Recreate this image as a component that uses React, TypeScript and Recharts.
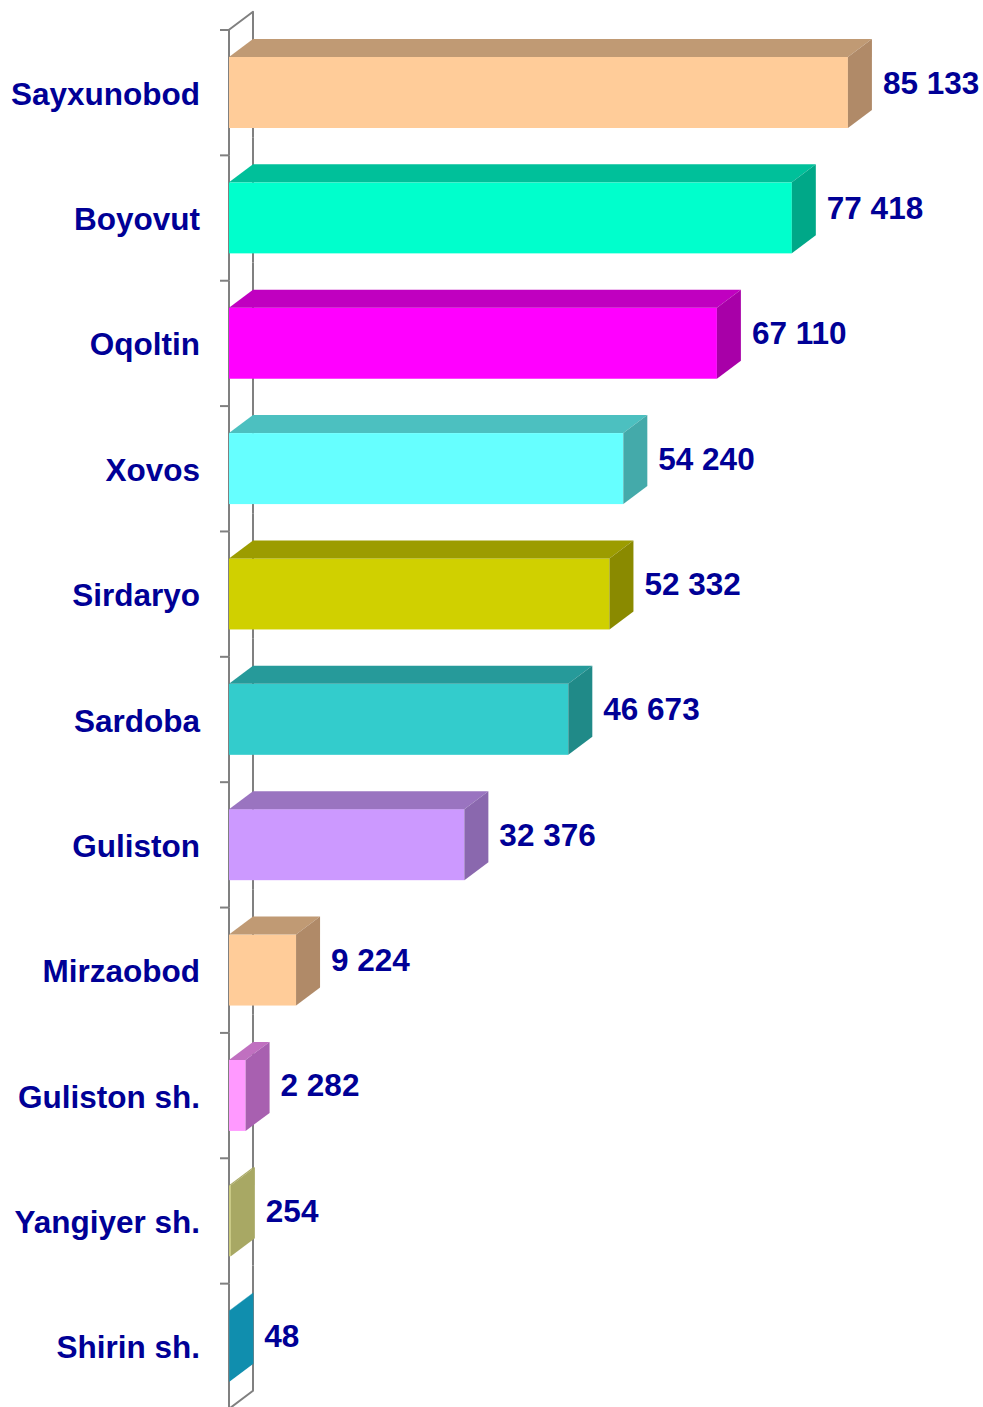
import React from 'react';
import { BarChart, Bar, XAxis, YAxis, LabelList } from 'recharts';

const categories = ['Sayxunobod', 'Boyovut', 'Oqoltin', 'Xovos', 'Sirdaryo', 'Sardoba', 'Guliston', 'Mirzaobod', 'Guliston sh.', 'Yangiyer sh.', 'Shirin sh.'];
const values = [85133, 77418, 67110, 54240, 52332, 46673, 32376, 9224, 2282, 254, 48];
const valueLabels = ['85 133', '77 418', '67 110', '54 240', '52 332', '46 673', '32 376', '9 224', '2 282', '254', '48'];

const frontColors = ['#FFCC99', '#00FFCC', '#FF00FF', '#66FFFF', '#D0D000', '#33CCCC', '#CC99FF', '#FFCC99', '#FF99FF', '#C8C878', '#14A0C4'];
const topColors = ['#C09A74', '#00C09A', '#C000C0', '#4CC0C0', '#9C9C00', '#269A9A', '#9A74C0', '#C09A74', '#C070C0', '#A8A864', '#1090B0'];
const sideColors = ['#B08A68', '#00A888', '#A800A8', '#44AAAA', '#8A8A00', '#208A88', '#8A68AE', '#B08A68', '#A860B0', '#A8A864', '#108EAE'];

const data = categories.map((name, i) => ({ name, value: values[i], label: valueLabels[i] }));

const W = 983;
const H = 1409;
const M_TOP = 30;
const M_BOTTOM = 0;
const DX = 24;
const DY = 18;
const BAND = (H - M_TOP - M_BOTTOM) / categories.length;
const TEXT = '#000096';
const FONT = '"Liberation Sans", Arial, sans-serif';
const FS = 31.5;
const WALL = '#808080';

const BoxShape = (props: any) => {
  const { x, y, width, height, index } = props;
  const w = Math.max(0, width || 0);
  const i = index ?? categories.indexOf(props.name);
  return (
    <g>
      <rect x={x} y={y} width={w} height={height} fill={frontColors[i]} />
      <polygon points={`${x},${y} ${x + DX},${y - DY} ${x + w + DX},${y - DY} ${x + w},${y}`} fill={topColors[i]} />
      <polygon
        points={`${x + w},${y} ${x + w + DX},${y - DY} ${x + w + DX},${y + height - DY} ${x + w},${y + height}`}
        fill={sideColors[i]}
      />
    </g>
  );
};

// Draws the segment of the 3D axis wall belonging to each category band (rendered beneath the bars)
const WallSegment = (props: any) => {
  const { x, y, height, index } = props;
  if (x == null || y == null) return null;
  const yc = y + height / 2;
  const t = yc - BAND / 2;
  const b = yc + BAND / 2;
  const last = index === categories.length - 1;
  return (
    <g>
      <line x1={x} x2={x} y1={t} y2={b} stroke={WALL} strokeWidth={2} />
      <line x1={x + DX} x2={x + DX} y1={t - DY} y2={b - DY} stroke={WALL} strokeWidth={2} />
      {index === 0 && <line x1={x} y1={t} x2={x + DX} y2={t - DY} stroke={WALL} strokeWidth={2} strokeLinecap="round" />}
      {last && <line x1={x} y1={b} x2={x + DX} y2={b - DY} stroke={WALL} strokeWidth={2} strokeLinecap="round" />}
    </g>
  );
};

const ValueLabel = (props: any) => {
  const { x, y, width, height, value } = props;
  const cx = x + Math.max(0, width) + DX + 11;
  const cy = y + height / 2 + 1;
  return (
    <text x={cx} y={cy} fill={TEXT} fontFamily={FONT} fontWeight="bold" fontSize={FS} textAnchor="start">
      {value}
    </text>
  );
};

const CategoryTick = (props: any) => {
  const { x, y, payload } = props;
  const b = y - BAND / 2;
  return (
    <g>
      <line x1={x - 9} x2={x} y1={b} y2={b} stroke={WALL} strokeWidth={2} />
      <text x={x - 29} y={y + 12} fill={TEXT} fontFamily={FONT} fontWeight="bold" fontSize={FS} textAnchor="end">
        {payload.value}
      </text>
    </g>
  );
};

export default function App() {
  return (
    <div style={{ position: 'fixed', left: 0, top: 0, width: W, height: 1407, overflow: 'hidden', background: '#fff' }}>
      <BarChart
        width={W}
        height={H}
        data={data}
        layout="vertical"
        margin={{ top: M_TOP, right: 27, bottom: M_BOTTOM, left: 0 }}
        barSize={71}
      >
        <XAxis type="number" domain={[0, 100000]} hide />
        <YAxis
          type="category"
          dataKey="name"
          width={229}
          axisLine={false}
          tickLine={false}
          tickSize={0}
          tickMargin={0}
          interval={0}
          tick={<CategoryTick />}
        />
        <Bar dataKey="value" shape={<BoxShape />} background={<WallSegment />} isAnimationActive={false}>
          <LabelList dataKey="label" content={<ValueLabel />} />
        </Bar>
      </BarChart>
    </div>
  );
}
